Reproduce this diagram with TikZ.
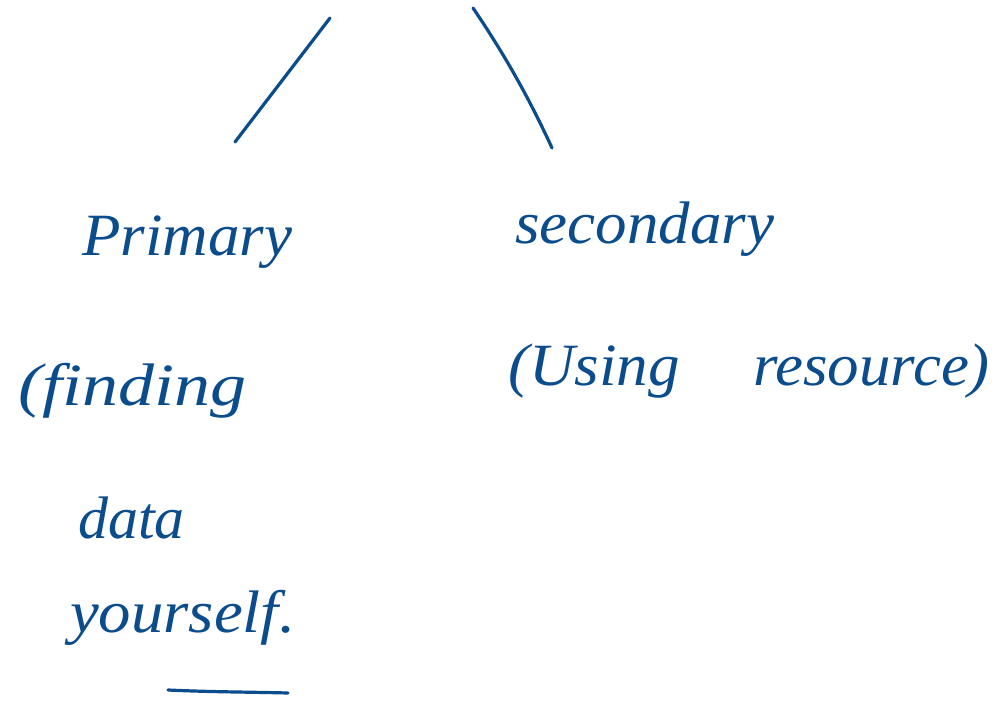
\documentclass[tikz,border=0pt]{standalone}
\usepackage{fontspec}
\setmainfont{Liberation Serif}
\definecolor{ink}{HTML}{0B4C8C}
\begin{document}
\begin{tikzpicture}[x=1pt,y=-1pt,
  hand/.style={text=ink,font=\itshape\fontsize{60}{62}\selectfont,anchor=base west,inner sep=0pt},
  stroke/.style={draw=ink,line width=3.2pt,line cap=round}]
\useasboundingbox[fill=white] (0,0) rectangle (1005,704);
\node[hand,xscale=1.05] (prim) at (82,255) {Primary};
\node[hand,xscale=1.2] (find) at (18,405) {(finding};
\node[hand] (data) at (78,538) {data};
\node[hand,xscale=1.08] (your) at (70,632) {yourself.};
\node[hand,xscale=1.05] (sec) at (515,243) {secondary};
\node[hand,xscale=1.05] (using) at (508,385) {(Using\hspace{70pt}resource)};
\coordinate (a1) at (330,18);
\coordinate (a2) at (235,142);
\coordinate (b1) at (473,8);
\coordinate (b2) at (552,148);
\coordinate (u1) at (168,690);
\coordinate (u2) at (288,693);
\draw[stroke] (a1) -- (a2);
\draw[stroke] (b1) .. controls (505,55) and (530,100) .. (b2);
\draw[stroke] (u1) .. controls (210,692) and (250,692) .. (u2);
\end{tikzpicture}
\end{document}
